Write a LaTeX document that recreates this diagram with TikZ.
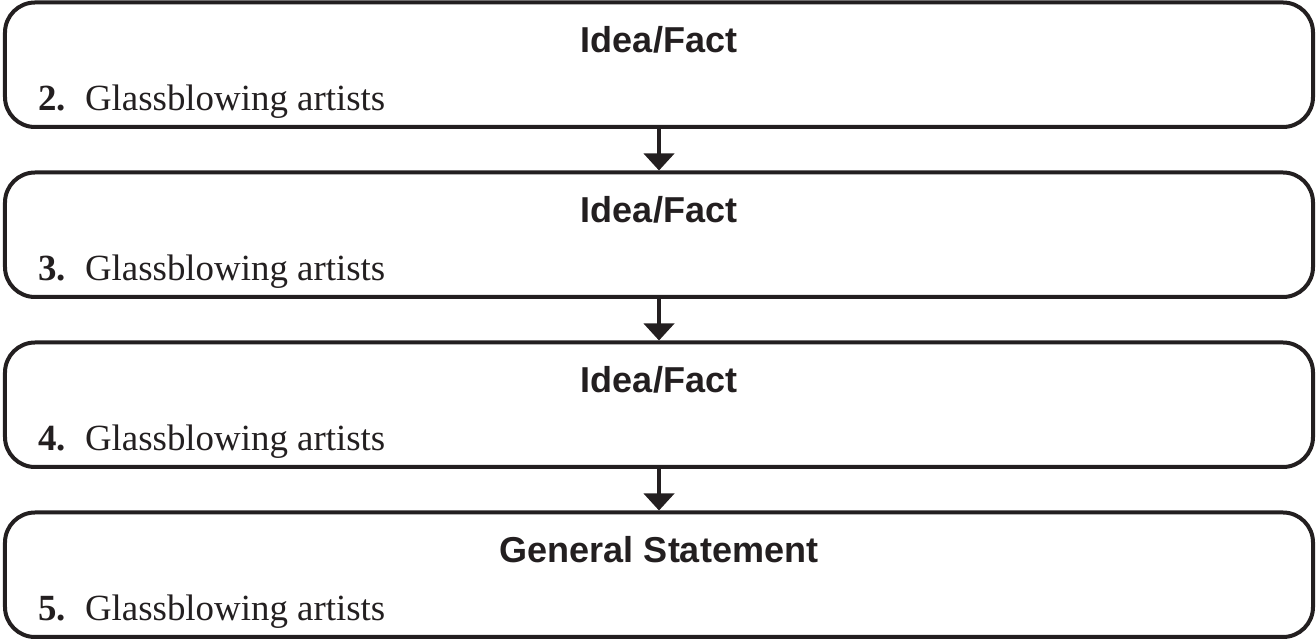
\documentclass[tikz,border=0pt]{standalone}
\usepackage{fontspec}
\setmainfont{Liberation Serif}
\newfontfamily\headfont{Liberation Sans}
\usepackage{xcolor}
\usetikzlibrary{arrows.meta,positioning}
\definecolor{ink}{RGB}{35,31,32}

\tikzset{
  factbox/.style={draw=ink, line width=0.08cm, rounded corners=0.6cm,
    minimum width=26.16cm, minimum height=2.49cm, inner sep=0pt},
  boxhead/.style={anchor=base, inner sep=0pt, text=ink,
    font=\headfont\bfseries\fontsize{20.5}{24}\selectfont},
  boxitem/.style={anchor=base west, inner sep=0pt, text=ink,
    font=\fontsize{21}{25}\selectfont},
  flow/.style={draw=ink, line width=0.08cm,
    -{Triangle[length=0.34cm,width=0.6cm]}}
}

\begin{document}
\begin{tikzpicture}
  \useasboundingbox (0,0) rectangle (26.32,12.82);
  % the four boxes
  \node[factbox] (fact2) at (13.18,11.525) {};
  \node[factbox] (fact3) at (13.18,8.125) {};
  \node[factbox] (fact4) at (13.18,4.725) {};
  \node[factbox] (general) at (13.18,1.325) {};
  % headings
  \node[boxhead] (head2) at (13.18,11.77) {Idea/Fact};
  \node[boxhead] (head3) at (13.18,8.37) {Idea/Fact};
  \node[boxhead] (head4) at (13.18,4.97) {Idea/Fact};
  \node[boxhead] (headgen) at (13.18,1.57) {General Statement};
  % entries
  \node[boxitem] (item2) at (0.76,10.61) {\textbf{2.}\hspace{0.38cm}Glassblowing artists};
  \node[boxitem] (item3) at (0.76,7.21) {\textbf{3.}\hspace{0.38cm}Glassblowing artists};
  \node[boxitem] (item4) at (0.76,3.81) {\textbf{4.}\hspace{0.38cm}Glassblowing artists};
  \node[boxitem] (item5) at (0.76,0.41) {\textbf{5.}\hspace{0.38cm}Glassblowing artists};
  % arrows
  \draw[flow] (fact2) -- (fact3);
  \draw[flow] (fact3) -- (fact4);
  \draw[flow] (fact4) -- (general);
\end{tikzpicture}
\end{document}
